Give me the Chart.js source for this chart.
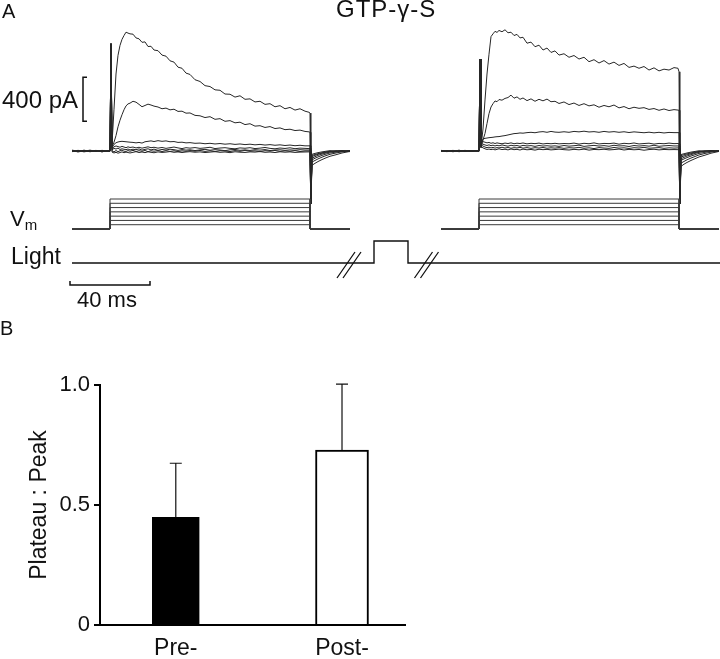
<!DOCTYPE html>
<html>
<head>
<meta charset="utf-8">
<script src="https://cdn.jsdelivr.net/npm/chart.js@4.4.1/dist/chart.umd.min.js"></script>
<style>
  html, body { margin: 0; padding: 0; background: #fff; }
  #page { position: relative; width: 720px; height: 659px; overflow: hidden; font-family: 'Liberation Sans', Arial, sans-serif; color: #111; }
  canvas { position: absolute; left: 0; }
  .lbl { position: absolute; white-space: nowrap; line-height: 1; }
</style>
</head>
<body>
<div id="page">
  <canvas id="tracesChart" width="720" height="330" style="top:0;width:720px;height:330px"></canvas>
  <canvas id="ratioChart" width="430" height="329" style="top:330px;width:430px;height:329px"></canvas>

  <div class="lbl" style="left:2px;top:1px;font-size:20px">A</div>
  <div class="lbl" style="left:336px;top:-3px;font-size:24px;letter-spacing:1px">GTP-γ-S</div>
  <div class="lbl" style="left:2px;top:88px;font-size:24px">400 pA</div>
  <div class="lbl" style="left:10px;top:208px;font-size:22px">V<span style="font-size:15px;position:relative;top:4px">m</span></div>
  <div class="lbl" style="left:11px;top:245px;font-size:23px">Light</div>
  <div class="lbl" style="left:77px;top:289px;font-size:22px">40 ms</div>
  <div class="lbl" style="left:0px;top:318px;font-size:20px">B</div>
</div>

<script>
// ---- panel A: voltage-clamp sweeps (time in ms from step onset, current in pA) ----
const sweepTimeMs = [-19, -16, -13, -10, -7, -4, -1.5, 0, 0.5, 1,
    2, 3, 4, 5, 6, 7, 8, 9, 10,
    11.5, 13, 14.5, 16, 17.5, 19, 20.5, 22,
    24, 26, 28, 30, 32, 34, 36, 38, 40,
    42.5, 45, 47.5, 50, 52.5, 55, 57.5, 60, 62.5, 65, 67.5, 70, 72.5, 75, 77.5, 80, 82.5, 85, 87.5, 90, 92.5, 95, 97.5,
    99.5, 100, 100.4,
    101, 102.5, 104, 106, 108, 110, 113, 116, 120];

// before GTP-γ-S takes effect
const firstSweepPa = [
    [4, -7, 8, -5, 6, -8, 3, 0, 975, 60,
     380, 700, 870, 960, 1015, 1050, 1080, 1072, 1065,
     1062, 1028, 1020, 988, 992, 950, 952, 918,
     912, 872, 862, 820, 808, 762, 752, 708, 696,
     648, 632, 594, 586, 556, 552, 518, 516, 490, 502, 470, 474, 446, 452, 424, 430, 402, 412, 384, 396, 372, 384, 362,
     352, 345, -480,
     -130, -112, -96, -78, -62, -48, -34, -18, -4],
    [-5, 6, -3, 8, -4, 5, -2, 2, 975, 40,
     80, 140, 220, 280, 330, 375, 410, 428, 435,
     452, 444, 424, 402, 414, 426, 418, 408,
     400, 384, 390, 374, 380, 360, 362, 344, 346,
     324, 320, 304, 312, 288, 294, 270, 276, 256, 262, 240, 248, 226, 230, 214, 222, 204, 210, 194, 198, 186, 190, 178,
     174, 170, -480,
     -100, -86, -72, -56, -42, -30, -18, -8, 4],
    [8, -2, 5, -7, 3, -4, 2, -1, 975, 30,
     60, 75, 82, 86, 88, 86, 84, 82, 80,
     78, 74, 78, 72, 84, 88, 92, 86,
     94, 88, 92, 84, 86, 78, 80, 74, 76,
     70, 72, 66, 70, 64, 68, 62, 66, 60, 64, 58, 62, 56, 60, 54, 58, 52, 56, 50, 54, 48, 52, 47,
     47, 48, -480,
     -80, -66, -54, -40, -28, -18, -10, -3, 4],
    [-3, 4, -8, 2, -5, 6, -1, 0, 975, 20,
     38, 46, 40, 34, 42, 36, 30, 38, 32,
     36, 28, 34, 26, 32, 38, 30, 34,
     26, 32, 24, 30, 36, 28, 22, 30, 26,
     31, 24, 28, 34, 22, 27, 30, 24, 20, 28, 25, 30, 22, 26, 32, 24, 20, 27, 23, 29, 21, 26, 24,
     22, 24, -480,
     -65, -52, -40, -28, -18, -10, -3, 2, -3],
    [2, -4, 3, -2, 5, -6, 1, -3, 975, 10,
     24, 18, 26, 14, 20, 16, 12, 18, 10,
     16, 12, 19, 8, 15, 20, 10, 17,
     6, 14, 9, 16, 12, 5, 13, 8, 11,
     4, 10, 15, 7, 12, 9, 3, 11, 14, 6, 10, 5, 12, 8, 13, 4, 9, 11, 6, 10, 7, 12, 9,
     9, 8, -480,
     -50, -40, -30, -20, -12, -5, 0, 4, -2],
    [-6, 2, -4, 5, -1, 4, -3, 1, 975, 0,
     -8, 4, -6, 2, 8, -2, -4, 4, -2,
     6, -5, 3, -3, 5, -6, 2, -2,
     4, -5, 3, -4, 2, -6, 1, -3, 4,
     -2, 5, -4, 2, -6, 3, 0, -5, 4, -3, 6, -2, 1, -6, 3, -1, 5, -4, 2, -3, 4, -5, 0,
     0, 2, -480,
     -40, -32, -24, -16, -8, -2, 3, -5, 1],
    [3, -8, 0, -5, 2, -6, 1, -2, 975, -10,
     -18, -12, -20, -14, -8, -16, -10, -14, -18,
     -12, -6, -14, -9, -15, -7, -12, -16,
     -8, -13, -10, -5, -12, -8, -14, -9, -6,
     -11, -8, -14, -10, -6, -12, -9, -15, -7, -11, -13, -8, -10, -5, -12, -9, -14, -7, -11, -8, -13, -10, -9,
     -8, -10, -480,
     -30, -22, -15, -8, -2, 3, -4, 3, -6]
];

// after GTP-γ-S
const secondSweepPa = [
    [5, -4, 6, -6, 3, -5, 2, 0, 835, 40,
     200, 464, 700, 880, 1040, 1065, 1088, 1078, 1096,
     1084, 1102, 1075, 1080, 1050, 1060, 1028, 1034,
     980, 990, 948, 962, 918, 936, 896, 910, 872,
     884, 852, 868, 836, 852, 812, 830, 800, 822, 790, 808, 778, 796, 760, 772, 752, 768, 736, 756, 728, 744, 736, 758,
     752, 720, -480,
     -140, -120, -104, -86, -70, -54, -38, -20, -4],
    [-4, 5, -2, 7, -5, 3, -1, 1, 835, 30,
     100, 160, 250, 340, 400, 430, 455, 448, 468,
     462, 478, 486, 508, 480, 492, 470, 482,
     458, 474, 452, 470, 456, 472, 448, 452, 432,
     446, 422, 436, 414, 430, 410, 420, 398, 414, 402, 418, 392, 404, 384, 398, 388, 394, 378, 386, 370, 382, 368, 376,
     372, 370, -480,
     -110, -95, -80, -64, -50, -36, -22, -10, 4],
    [6, -3, 4, -6, 2, -4, 3, -2, 835, 60,
     110, 115, 118, 121, 123, 125, 128, 130, 131,
     136, 140, 146, 152, 158, 160, 164, 162,
     167, 170, 166, 173, 176, 170, 178, 172, 170,
     175, 170, 178, 174, 180, 173, 176, 170, 178, 172, 176, 170, 175, 168, 174, 170, 166, 171, 165, 170, 164, 169, 167,
     167, 167, -480,
     -85, -72, -60, -46, -34, -22, -12, -2, 3],
    [-2, 3, -7, 4, -3, 5, -1, 2, 835, 90,
     85, 80, 74, 78, 70, 75, 68, 74, 70,
     66, 72, 68, 74, 66, 71, 68, 73,
     65, 70, 67, 72, 64, 69, 66, 70, 65,
     68, 66, 72, 63, 70, 66, 74, 64, 69, 67, 72, 62, 70, 66, 73, 64, 68, 71, 63, 69, 66, 72, 67,
     68, 66, -480,
     -70, -58, -46, -34, -22, -12, -3, 3, -2],
    [4, -5, 2, -3, 6, -4, 1, -1, 835, 70,
     62, 55, 50, 56, 48, 53, 46, 52, 47,
     55, 49, 44, 52, 47, 50, 43, 51,
     46, 49, 42, 50, 45, 48, 44, 47, 42,
     50, 44, 48, 53, 42, 47, 51, 45, 49, 43, 52, 46, 48, 41, 50, 45, 49, 44, 52, 43, 47, 50, 46,
     46, 45, -480,
     -55, -45, -35, -25, -15, -7, 0, 4, -3],
    [-5, 1, -3, 6, -2, 4, -1, 3, 835, 55,
     45, 36, 30, 35, 28, 33, 26, 31, 28,
     34, 27, 32, 25, 30, 28, 33, 26,
     31, 24, 30, 27, 32, 25, 29, 26, 31,
     24, 30, 27, 33, 25, 29, 22, 31, 27, 24, 32, 26, 29, 23, 30, 27, 33, 25, 28, 31, 24, 29, 26,
     28, 27, -480,
     -42, -34, -26, -18, -10, -4, 2, -4, 2],
    [1, -6, 5, -2, 3, -5, 2, -4, 835, 40,
     28, 20, 14, 18, 12, 17, 10, 15, 20,
     13, 16, 10, 18, 12, 15, 9, 17,
     11, 14, 8, 16, 12, 15, 10, 13, 17,
     12, 9, 15, 11, 17, 8, 14, 12, 16, 10, 13, 18, 9, 15, 11, 14, 7, 13, 16, 10, 14, 12, 13,
     12, 14, -480,
     -32, -25, -18, -10, -4, 2, -3, 4, -1]
];

const holdingMv = -70;
const stepLevelsMv = [-60, -50, -40, -30, -20, -10, 0];
const stepOnMs = 0;
const stepOffMs = 100;

const lightTimesMs = [-19, 132, 132, 149, 149, 305];
const lightLevels = [0, 0, 1, 1, 0, 0];
const timeBreaksMs = [119.5, 158.25];

const scaleBarPa = 400;
const scaleBarMs = 40;

// ---- panel B ----
const categories = ['Pre-', 'Post-'];
const ratioMean = [0.449, 0.729];
const ratioSem = [0.225, 0.275];
const barFill = ['#000', '#fff'];
const barWidths = [47, 53];

const FONT = "'Liberation Sans', Arial, sans-serif";

// layout of panel A (canvas pixels)
const A_W = 720, A_H = 330;
const ORIGIN_X = 110, PX_PER_MS = 2;
const SECOND_SWEEP_OFFSET_MS = 184.5;
const I_BASE_Y = 151, PX_PER_PA = 0.11;
const V_BASE_Y = 229, PX_PER_MV = 30 / 70;
const L_BASE_Y = 263, PX_PER_LIGHT = 22;

const sweeps = [
    { offset: 0, currents: firstSweepPa },
    { offset: SECOND_SWEEP_OFFSET_MS, currents: secondSweepPa }
];

const traceDatasets = [];
sweeps.forEach(sw => {
    const tStart = sweepTimeMs[0];
    const tEnd = sweepTimeMs[sweepTimeMs.length - 1];
    stepLevelsMv.forEach(lvl => {
        const pts = [[tStart, holdingMv], [stepOnMs, holdingMv], [stepOnMs, lvl],
                     [stepOffMs, lvl], [stepOffMs, holdingMv], [tEnd, holdingMv]];
        traceDatasets.push({
            yAxisID: 'yV',
            data: pts.map(([t, v]) => ({ x: t + sw.offset, y: v })),
            borderColor: '#3a3a3a',
            borderWidth: 1
        });
    });
    sw.currents.forEach(trace => {
        traceDatasets.push({
            yAxisID: 'yI',
            data: sweepTimeMs.map((t, i) => ({ x: t + sw.offset, y: trace[i] })),
            borderColor: '#262626',
            borderWidth: 1
        });
    });
});
traceDatasets.push({
    yAxisID: 'yL',
    data: lightTimesMs.map((t, i) => ({ x: t, y: lightLevels[i] })),
    borderColor: '#111',
    borderWidth: 1.4
});

const annotationPlugin = {
    id: 'annotations',
    afterDraw(chart) {
        const { ctx, scales } = chart;
        const x = scales.x, yI = scales.yI, yL = scales.yL;
        ctx.save();
        ctx.strokeStyle = '#111';
        ctx.lineWidth = 1.5;

        // current scale bracket
        const bx = x.getPixelForValue(-13.5);
        const by0 = yI.getPixelForValue(270);
        const by1 = yI.getPixelForValue(270 + scaleBarPa);
        ctx.beginPath();
        ctx.moveTo(bx + 4, by1); ctx.lineTo(bx, by1); ctx.lineTo(bx, by0); ctx.lineTo(bx + 4, by0);
        ctx.stroke();

        // time scale bar
        const tx0 = x.getPixelForValue(-20);
        const tx1 = x.getPixelForValue(-20 + scaleBarMs);
        const ty = yL.getPixelForValue(-1);
        ctx.beginPath();
        ctx.moveTo(tx0, ty - 4); ctx.lineTo(tx0, ty); ctx.lineTo(tx1, ty); ctx.lineTo(tx1, ty - 4);
        ctx.stroke();

        // time break marks on the light trace
        ctx.lineWidth = 1.3;
        const ly = yL.getPixelForValue(0);
        timeBreaksMs.forEach(t => {
            const cx = x.getPixelForValue(t);
            ctx.beginPath();
            ctx.moveTo(cx - 12, ly + 15); ctx.lineTo(cx + 6, ly - 11);
            ctx.moveTo(cx - 6, ly + 15); ctx.lineTo(cx + 12, ly - 11);
            ctx.stroke();
        });
        ctx.restore();
    }
};

new Chart(document.getElementById('tracesChart'), {
    type: 'line',
    data: { datasets: traceDatasets },
    options: {
        responsive: false,
        animation: false,
        events: [],
        layout: { padding: 0 },
        elements: { point: { radius: 0 }, line: { tension: 0 } },
        plugins: { legend: { display: false }, tooltip: { enabled: false } },
        scales: {
            x: { type: 'linear', display: false, min: -ORIGIN_X / PX_PER_MS, max: (A_W - ORIGIN_X) / PX_PER_MS },
            yI: { type: 'linear', display: false, min: -(A_H - I_BASE_Y) / PX_PER_PA, max: I_BASE_Y / PX_PER_PA },
            yV: { type: 'linear', display: false, min: holdingMv - (A_H - V_BASE_Y) / PX_PER_MV, max: holdingMv + V_BASE_Y / PX_PER_MV },
            yL: { type: 'linear', display: false, min: -(A_H - L_BASE_Y) / PX_PER_LIGHT, max: L_BASE_Y / PX_PER_LIGHT }
        }
    },
    plugins: [annotationPlugin]
});

const errorBarPlugin = {
    id: 'errorBars',
    afterDatasetsDraw(chart) {
        const { ctx, scales: { x, y } } = chart;
        ctx.save();
        ctx.strokeStyle = '#111';
        ctx.lineWidth = 1.2;
        ratioMean.forEach((m, i) => {
            const px = x.getPixelForValue(i);
            const y0 = y.getPixelForValue(m);
            const y1 = y.getPixelForValue(m + ratioSem[i]);
            ctx.beginPath();
            ctx.moveTo(px, y0); ctx.lineTo(px, y1);
            ctx.moveTo(px - 6, y1); ctx.lineTo(px + 6, y1);
            ctx.stroke();
        });
        ctx.restore();
    }
};

new Chart(document.getElementById('ratioChart'), {
    type: 'bar',
    data: {
        datasets: categories.map((c, i) => ({
            label: c,
            data: [{ x: i, y: ratioMean[i] }],
            backgroundColor: barFill[i],
            borderColor: '#000',
            borderWidth: 2,
            borderSkipped: 'start',
            barThickness: barWidths[i],
            grouped: false
        }))
    },
    options: {
        responsive: false,
        animation: false,
        events: [],
        layout: { padding: { top: 55, right: 25, left: 0, bottom: 0 } },
        plugins: { legend: { display: false }, tooltip: { enabled: false } },
        scales: {
            x: {
                type: 'linear',
                offset: false,
                min: -0.456,
                max: 1.379,
                afterBuildTicks: ax => { ax.ticks = categories.map((_, i) => ({ value: i })); },
                afterFit: ax => { ax.height = 34; },
                grid: { display: false, drawTicks: false },
                border: { display: true, color: '#000', width: 2 },
                ticks: {
                    callback: v => categories[v],
                    color: '#111',
                    font: { family: FONT, size: 23 },
                    padding: 10,
                    maxRotation: 0,
                    autoSkip: false
                }
            },
            y: {
                min: 0,
                max: 1,
                afterFit: ax => { ax.width = 100; },
                border: { display: true, color: '#000', width: 2 },
                grid: { drawOnChartArea: false, drawTicks: true, tickLength: 6, color: '#000', lineWidth: 2 },
                ticks: {
                    stepSize: 0.5,
                    callback: v => v === 0 ? '0' : v.toFixed(1),
                    color: '#111',
                    font: { family: FONT, size: 22 },
                    padding: 4
                },
                title: {
                    display: true,
                    text: 'Plateau : Peak',
                    color: '#111',
                    font: { family: FONT, size: 23 },
                    padding: { top: 26, bottom: 0 }
                }
            }
        }
    },
    plugins: [errorBarPlugin]
});
</script>
</body>
</html>
